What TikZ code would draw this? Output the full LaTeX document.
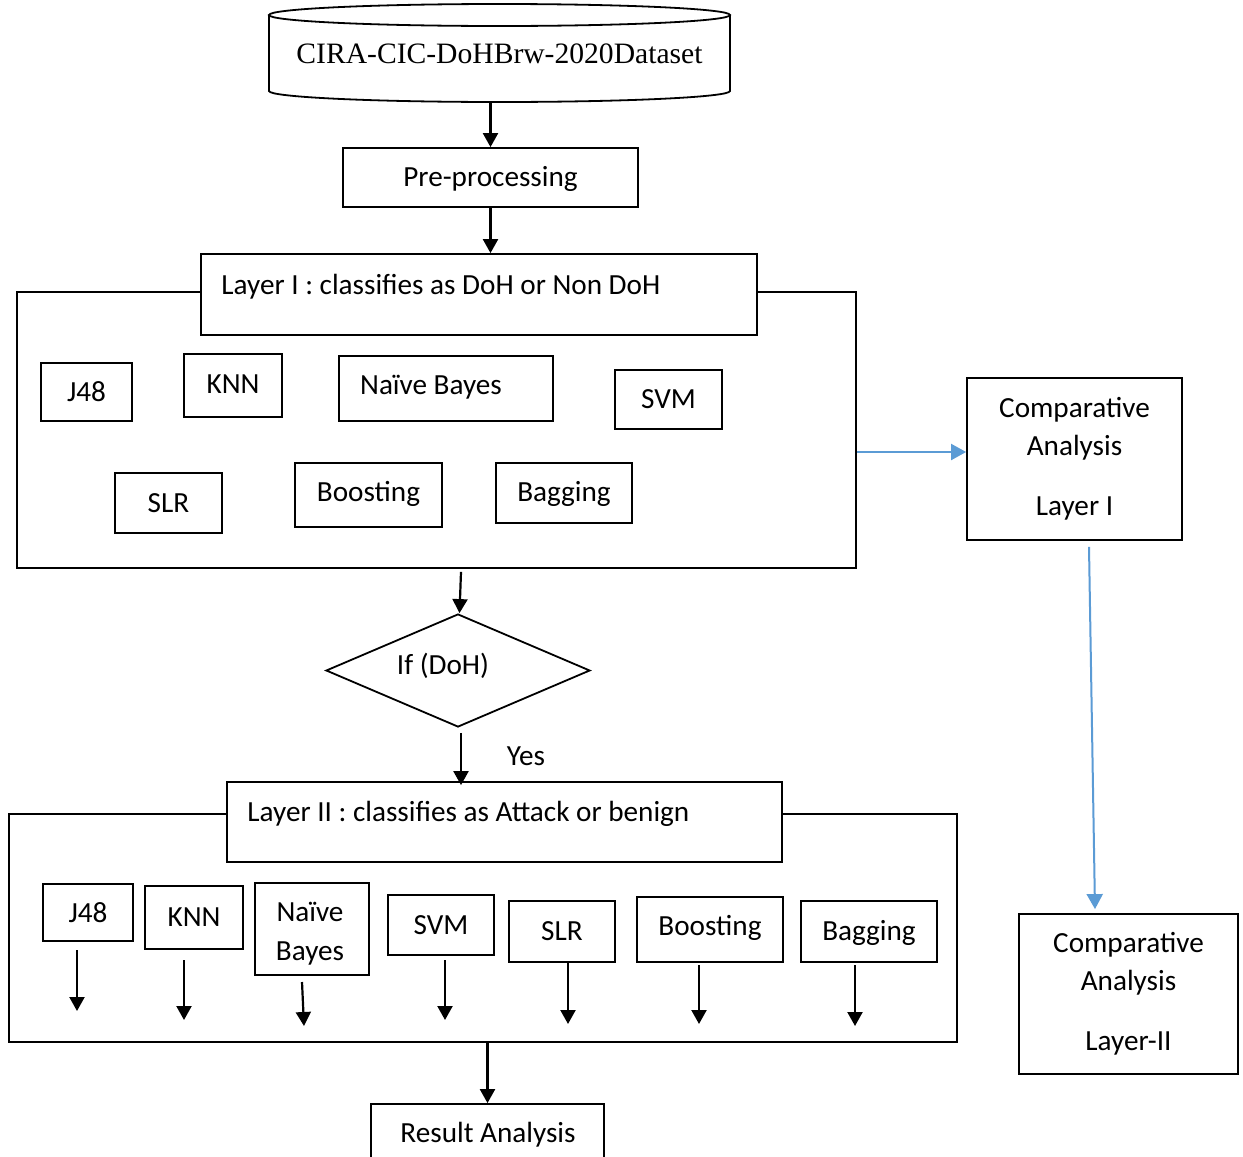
\documentclass[tikz,border=0pt]{standalone}
\usepackage{fontspec}
\setmainfont{Carlito}
\newfontfamily\tnr{Liberation Serif}
\usetikzlibrary{arrows.meta,shapes.geometric,calc}
\definecolor{arrowblue}{HTML}{5B9BD5}
\begin{document}
\begin{tikzpicture}[x=0.5pt,y=-0.5pt,
  font=\fontsize{14.6}{19}\selectfont,
  box/.style={draw=black,line width=0.9pt,fill=white,inner sep=0pt,align=center},
  txt/.style={inner sep=0pt},
  arr/.style={line width=1.1pt,-{Triangle[length=7pt,width=7.5pt]}},
  barr/.style={draw=arrowblue,line width=1pt,-{Triangle[length=7.5pt,width=8pt]},arrowblue}]
\clip (0,0) rectangle (1243,1157);
\fill[white] (0,0) rectangle (1243,1157);

% dataset cylinder
\node[txt,minimum width=230.5pt,minimum height=49pt] (ds) at (499.5,54) {\tnr\fontsize{14.8}{18}\selectfont CIRA-CIC-DoHBrw-2020Dataset};
\draw[line width=0.9pt] (499.5,15) ellipse [x radius=115.25pt,y radius=5.5pt];
\draw[line width=0.9pt] (269,15) -- (269,91) arc[start angle=180,end angle=360,x radius=115.25pt,y radius=5.5pt] -- (730,15);

% pre-processing
\node[box,minimum width=147.5pt,minimum height=29.5pt] (pre) at (490.5,177.5) {};
\node[txt] (pret) at (490.5,179) {Pre-processing};

% Layer I
\node[box,minimum width=419.5pt,minimum height=138pt] (L1) at (436.5,430) {};
\node[box,minimum width=278pt,minimum height=40.5pt] (h1) at (479,294.5) {};
\node[txt,anchor=west] (h1t) at (221,287) {Layer I : classifies as DoH or Non DoH};

\node[box,minimum width=45.5pt,minimum height=29pt] (j48a) at (86.5,392) {J48};
\node[box,minimum width=49pt,minimum height=31.5pt] (knna) at (233,385.5) {};
\node[txt] (knnat) at (233,384) {KNN};
\node[box,minimum width=107pt,minimum height=32.5pt] (nba) at (446,388.5) {};
\node[txt] (nbat) at (431,387.5) {Naïve Bayes};
\node[box,minimum width=53.5pt,minimum height=29.5pt] (svma) at (668.5,399.5) {SVM};
\node[box,minimum width=53.5pt,minimum height=30pt] (slra) at (168.5,503) {SLR};
\node[box,minimum width=73.5pt,minimum height=32pt] (boosta) at (368.5,495) {};
\node[txt] (boostat) at (368.5,494) {Boosting};
\node[box,minimum width=68pt,minimum height=30pt] (bagga) at (564,493) {};
\node[txt] (baggat) at (564,494) {Bagging};

% comparative analysis
\node[box,minimum width=107.5pt,minimum height=81pt] (ca1) at (1074.5,459) {Comparative\\Analysis\\[11pt]Layer I};
\node[box,minimum width=109.5pt,minimum height=80pt] (ca2) at (1128.5,994) {Comparative\\Analysis\\[11pt]Layer-II};

% decision
\node[draw,line width=0.9pt,diamond,inner sep=0pt,minimum width=132pt,minimum height=56.5pt] (dia) at (458,670.5) {};
\node[txt] (diat) at (443,666) {If (DoH)};
\node[txt] (yes) at (526,756) {Yes};

% Layer II
\node[box,minimum width=474pt,minimum height=114pt] (L2) at (483,928) {};
\node[box,minimum width=277.5pt,minimum height=40pt] (h2) at (504.5,822) {};
\node[txt,anchor=west] (h2t) at (247,814) {Layer II : classifies as Attack or benign};

\node[box,minimum width=45pt,minimum height=28.5pt] (j48b) at (88,912.5) {J48};
\node[box,minimum width=49pt,minimum height=31.5pt] (knnb) at (194,917.5) {};
\node[txt] (knnbt) at (194,917) {KNN};
\node[box,minimum width=57pt,minimum height=46pt] (nbb) at (312,929) {};
\node[txt,align=center,font=\fontsize{14.6}{19.5}\selectfont] (nbbt) at (310,934) {Naïve\\Bayes};
\node[box,minimum width=53pt,minimum height=30pt] (svmb) at (441,925) {SVM};
\node[box,minimum width=53pt,minimum height=30.5pt] (slrb) at (562,931.5) {SLR};
\node[box,minimum width=73pt,minimum height=32.5pt] (boostb) at (710,929.5) {};
\node[txt] (boostbt) at (710,928) {Boosting};
\node[box,minimum width=68pt,minimum height=30.5pt] (baggb) at (869,931.5) {};
\node[txt] (baggbt) at (869,933) {Bagging};

% result
\node[box,minimum width=116.5pt,minimum height=30pt] (res) at (487.5,1134) {};
\node[txt] (rest) at (488,1135) {Result Analysis};

% arrow endpoints in layer II
\coordinate (a1s) at (77,950);  \coordinate (a1e) at (77,1011);
\coordinate (a2s) at (184,960); \coordinate (a2e) at (184,1020);
\coordinate (a3s) at (302,982); \coordinate (a3e) at (304,1026);
\coordinate (a4s) at (445,960); \coordinate (a4e) at (445,1020);
\coordinate (a5s) at (568,963); \coordinate (a5e) at (568,1024);
\coordinate (a6s) at (699,965); \coordinate (a6e) at (699,1024);
\coordinate (a7s) at (855,965); \coordinate (a7e) at (855,1026);

% connectors
\draw[arr] (pre.north |- ds.south) -- (pre.north);
\draw[arr] (pre.south) -- (pre.south |- h1.north);
\draw[arr] ($(L1.south)+(24.5,3)$) -- ($(dia.north)+(1.5,0)$);
\draw[arr] ($(dia.south)+(3,5)$) -- ($(dia.south |- h2.north)+(3,4)$);
\draw[arr] (res.north |- L2.south) -- (res.north);
\foreach \i in {1,...,7} {\draw[arr] (a\i s) -- (a\i e);}

\draw[barr] (L1.east |- 0,452) -- (ca1.west |- 0,452);
\draw[barr] ($(ca1.south)+(14.5,6)$) -- ($(ca2.north)+(-33.5,-4)$);
\end{tikzpicture}
\end{document}
